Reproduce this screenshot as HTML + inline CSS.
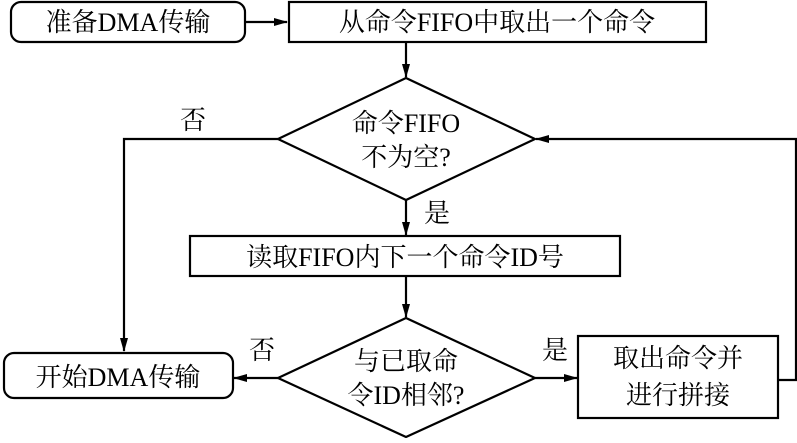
<!DOCTYPE html>
<html><head><meta charset="utf-8"><style>
body{margin:0;background:#fff}
svg text{font-family:"Liberation Serif","Noto Serif CJK SC",serif;font-size:26px;fill:#000}
</style></head><body>
<svg width="797" height="438" viewBox="0 0 797 438" xmlns="http://www.w3.org/2000/svg">
<defs><marker id="a" markerWidth="14" markerHeight="10" refX="13" refY="5" orient="auto" markerUnits="userSpaceOnUse"><path d="M0,1 L14,5 L0,9 Z" fill="#000"/></marker></defs>
<g fill="none" stroke="#000" stroke-width="2.2">
<rect x="11" y="2" width="234" height="40" rx="10"/>
<rect x="289" y="2" width="417" height="40"/>
<polygon points="278,139 406,78 535,139 406,200"/>
<rect x="190" y="236" width="430" height="40"/>
<polygon points="278,378 406,318 535,378 406,437"/>
<rect x="4" y="353" width="229" height="45" rx="10"/>
<rect x="578" y="336" width="200" height="82"/>
<line x1="245" y1="22" x2="287" y2="22" marker-end="url(#a)"/>
<line x1="406" y1="42" x2="406" y2="77" marker-end="url(#a)"/>
<polyline points="278,139 124,139 124,351" marker-end="url(#a)"/>
<line x1="406" y1="200" x2="406" y2="235" marker-end="url(#a)"/>
<line x1="406" y1="276" x2="406" y2="317" marker-end="url(#a)"/>
<line x1="278" y1="378" x2="234" y2="378" marker-end="url(#a)"/>
<line x1="535" y1="378" x2="577" y2="378" marker-end="url(#a)"/>
<polyline points="778,380 796,380 796,139 536,139" marker-end="url(#a)"/>
</g>
<text x="128" y="31" text-anchor="middle">准备DMA传输</text>
<text x="497" y="31" text-anchor="middle">从命令FIFO中取出一个命令</text>
<text x="406" y="132" text-anchor="middle">命令FIFO</text>
<text x="406" y="166" text-anchor="middle">不为空?</text>
<text x="193" y="129" text-anchor="middle">否</text>
<text x="437" y="222" text-anchor="middle">是</text>
<text x="405" y="266" text-anchor="middle">读取FIFO内下一个命令ID号</text>
<text x="406" y="370" text-anchor="middle">与已取命</text>
<text x="406" y="404" text-anchor="middle">令ID相邻?</text>
<text x="262" y="359" text-anchor="middle">否</text>
<text x="555" y="359" text-anchor="middle">是</text>
<text x="118" y="386" text-anchor="middle">开始DMA传输</text>
<text x="678" y="367" text-anchor="middle">取出命令并</text>
<text x="678" y="404" text-anchor="middle">进行拼接</text>
</svg>
</body></html>
